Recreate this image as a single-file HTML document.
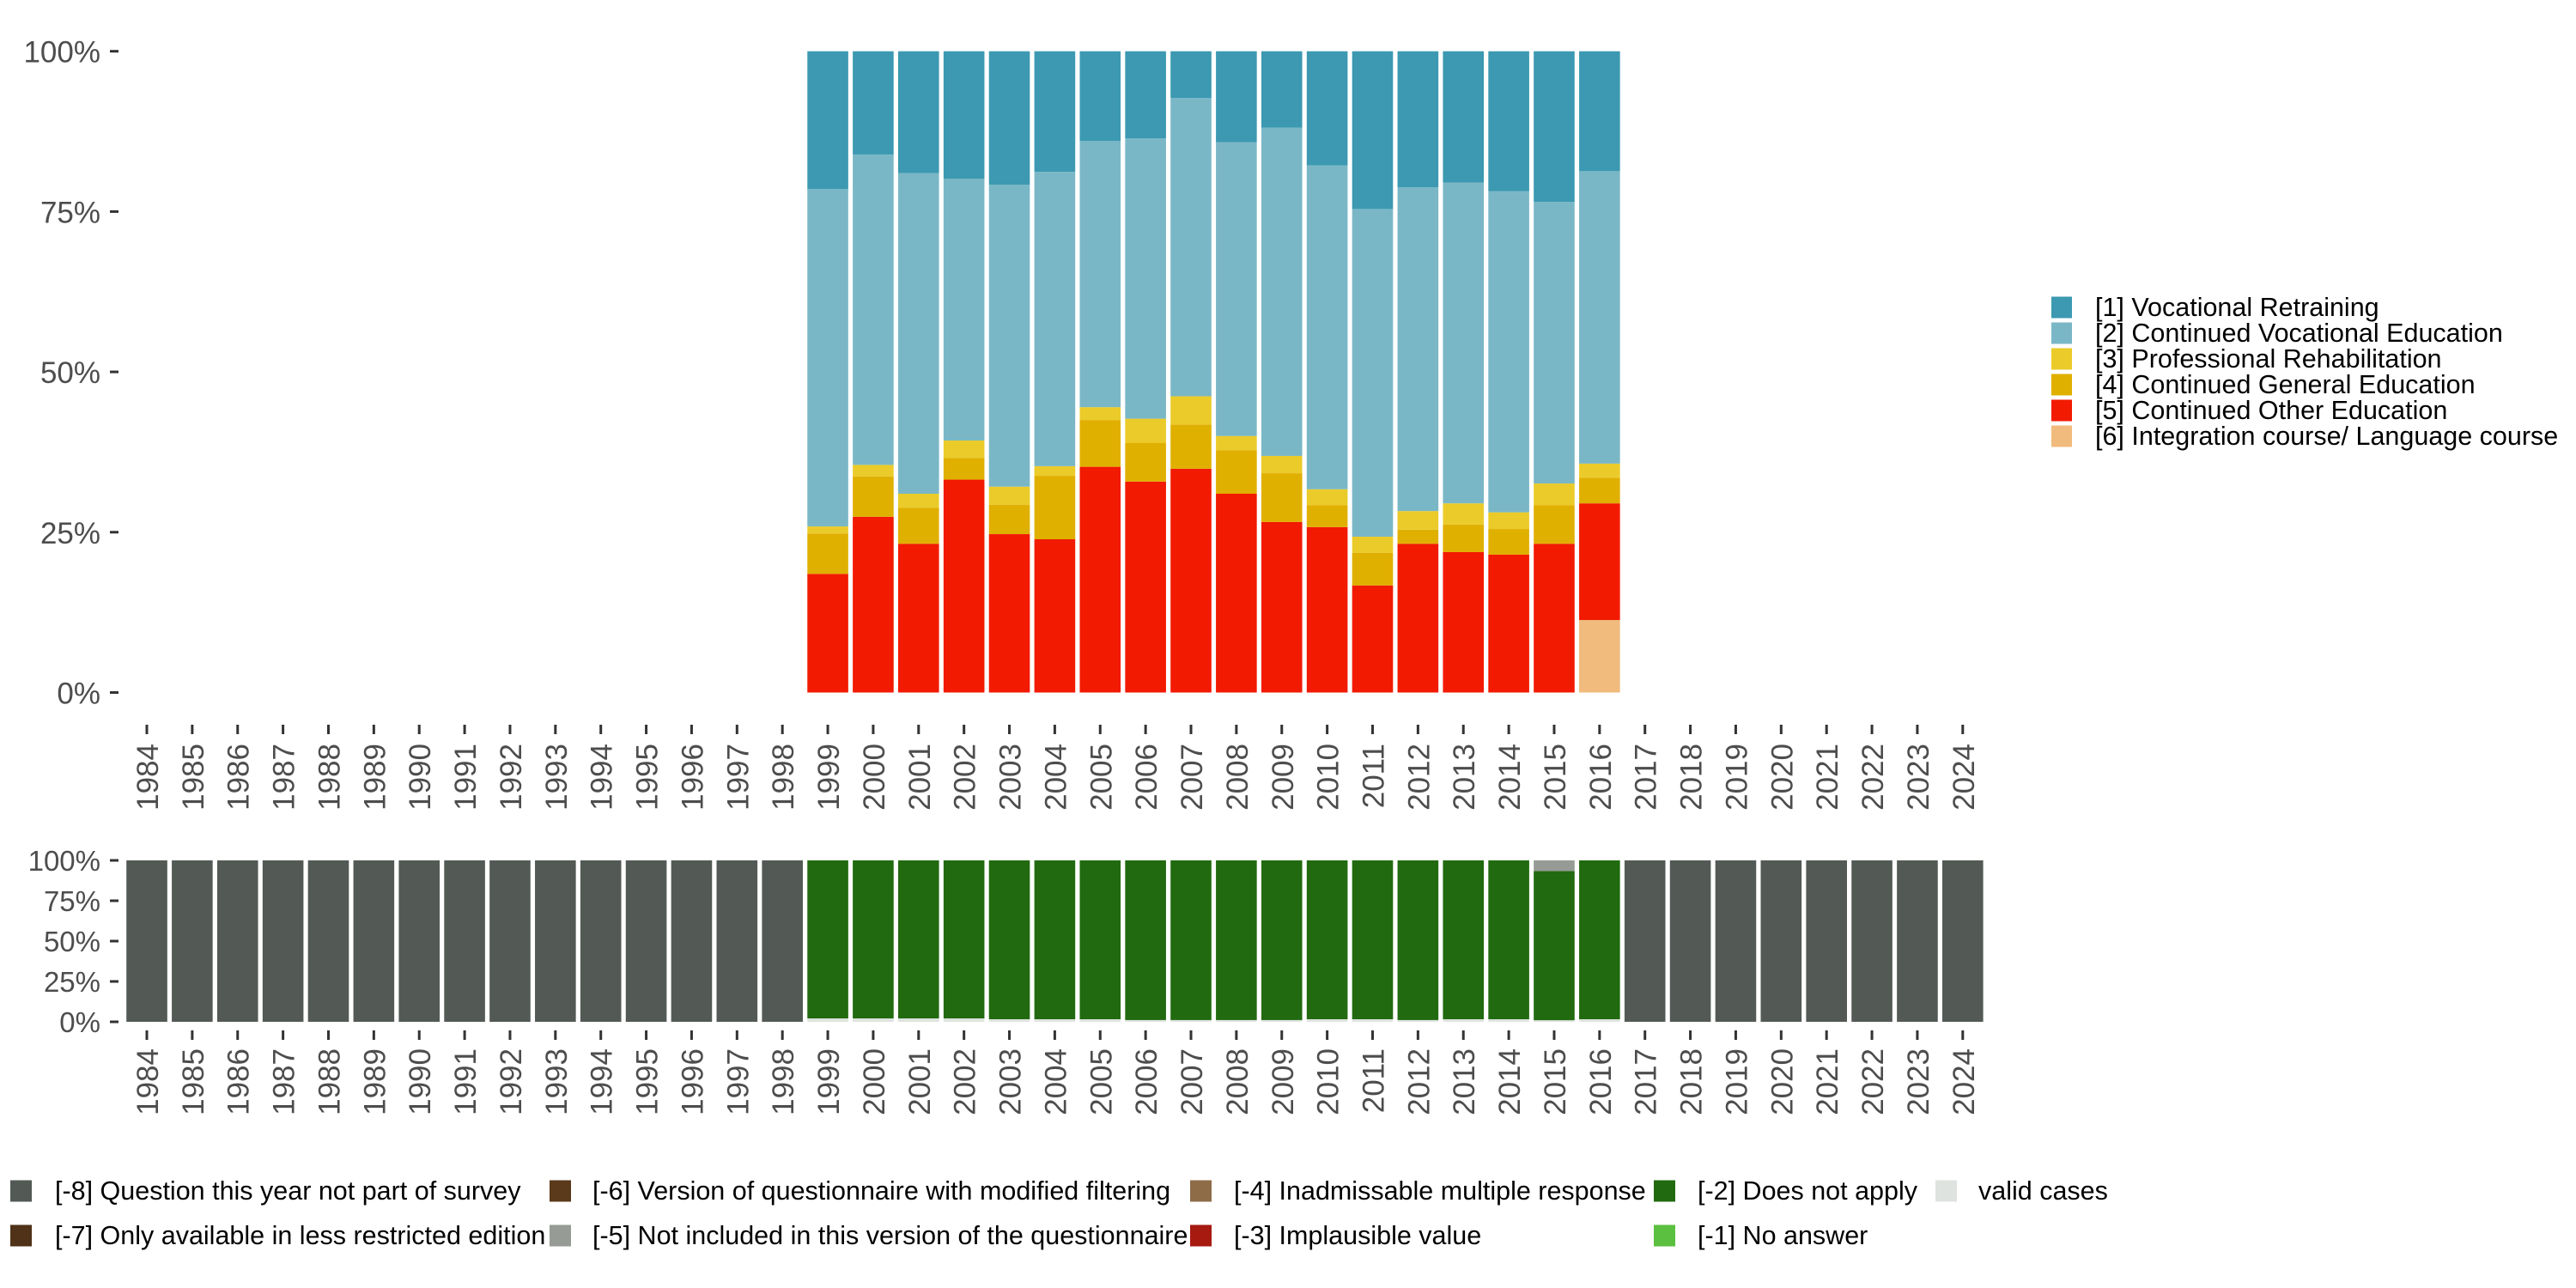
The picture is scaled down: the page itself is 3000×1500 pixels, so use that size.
<!DOCTYPE html>
<html><head><meta charset="utf-8"><style>
html,body{margin:0;padding:0;background:#fff;}
svg{display:block;font-family:"Liberation Sans",sans-serif;}
</style></head><body>
<svg id="chart" width="3000" height="1500" viewBox="0 0 3000 1500" xmlns="http://www.w3.org/2000/svg">
<g id="top"></g>
<g id="bottom"></g>
<g id="legend1"></g>
<g id="legend2"></g>
</svg>
<script>
const years = [];
for (let y = 1984; y <= 2024; y++) years.push(y);
const dataYears = [1999,2000,2001,2002,2003,2004,2005,2006,2007,2008,2009,2010,2011,2012,2013,2014,2015,2016];
const integration = [0,0,0,0,0,0,0,0,0,0,0,0,0,0,0,0,0,11.3];
const otherEdu =   [18.5,27.4,23.2,33.2,24.7,23.9,35.2,32.9,34.9,31.0,26.6,25.8,16.7,23.2,21.9,21.5,23.2,18.2];
const generalEdu = [6.3,6.3,5.6,3.4,4.6,9.9,7.3,6.0,6.9,6.8,7.6,3.4,5.1,2.2,4.3,4.0,6.0,4.0];
const rehab =      [1.1,1.8,2.2,2.7,2.8,1.5,2.0,3.8,4.4,2.2,2.7,2.5,2.5,2.9,3.3,2.6,3.4,2.2];
const contVoc =    [52.6,48.4,50.0,40.8,47.1,45.9,41.5,43.7,46.5,45.8,51.2,50.5,51.1,50.5,50.0,50.1,43.9,45.6];
const retraining = [21.5,16.1,19.0,19.9,20.8,18.8,14.0,13.6,7.3,14.2,11.9,17.8,24.6,21.2,20.5,21.8,23.5,18.7];
const yTicks = [0,25,50,75,100];
const yTickLabels = ["0%","25%","50%","75%","100%"];
const validCases = [2.1,2.1,2.1,2.1,1.6,1.6,1.6,1.1,1.1,1.1,1.1,1.6,1.6,1.1,1.6,1.6,1.0,1.6];
const notIncluded = [0,0,0,0,0,0,0,0,0,0,0,0,0,0,0,0,6.6,0];

const NS = "http://www.w3.org/2000/svg";
function mk(tag, attrs, parent){const e=document.createElementNS(NS,tag);for(const k in attrs)e.setAttribute(k,attrs[k]);parent.appendChild(e);return e;}

const band = 52.87, x0 = 171, barW = 47.6;
function xPos(year){return x0 + (year-1984)*band;}
function yTop(v){return 806.5 - v/100*(806.5-59.7);}
function yBot(v){return 1190 - v/100*(1190-1002);}

const topColors = ["#f0bb7c","#f21a00","#e0b000","#ebcb2a","#7ab7c6","#3c99b1"];
const topSeries = [integration,otherEdu,generalEdu,rehab,contVoc,retraining];
const topNames = ["integration","other-education","general-education","rehabilitation","continued-vocational","vocational-retraining"];
const gTop = document.getElementById("top");
dataYears.forEach((yr,i)=>{
  let acc=0;
  topSeries.forEach((s,k)=>{
    const v=s[i]; if(v<=0) return;
    const r=mk("rect",{x:xPos(yr)-barW/2,y:yTop(acc+v),width:barW,height:yTop(acc)-yTop(acc+v),fill:topColors[k]},gTop);
    
    
    acc+=v;
  });
});
function yAxis(g, fn, fs, off){
  yTicks.forEach((t,i)=>{
    const tk=mk("rect",{x:128,y:fn(t)-1.5,width:10,height:3,fill:"#333"},g);
    
    
    const tx=mk("text",{x:117,y:fn(t)+off,"text-anchor":"end","font-size":fs,fill:"#4d4d4d"},g);
    tx.textContent=yTickLabels[i];
    
    
  });
}
function xAxis(g, tickY, labelY){
  years.forEach(yr=>{
    const tk=mk("rect",{x:xPos(yr)-1.5,y:tickY,width:3,height:11,fill:"#333"},g);
    
    
    const bx=xPos(yr)+13;
    const tx=mk("text",{x:bx,y:labelY,"text-anchor":"end","font-size":35,fill:"#4d4d4d",transform:`rotate(-90 ${bx} ${labelY})`},g);
    tx.textContent=yr;
    
    
  });
}
yAxis(gTop, yTop, 35, 13);
xAxis(gTop, 844, 866);

const gB = document.getElementById("bottom");
years.forEach(yr=>{
  const i=dataYears.indexOf(yr);
  const parts = i<0 ? [[100,"#535a55","not-part-of-survey"]] :
    [[validCases[i],"#dfe3df","valid-cases"],[100-validCases[i]-notIncluded[i],"#216a10","does-not-apply"],[notIncluded[i],"#979b96","not-included"]];
  let acc=0;
  parts.forEach(p=>{
    if(p[0]<=0) return;
    const r=mk("rect",{x:xPos(yr)-barW/2,y:yBot(acc+p[0]),width:barW,height:yBot(acc)-yBot(acc+p[0]),fill:p[1]},gB);
    
    
    acc+=p[0];
  });
});
yAxis(gB, yBot, 33, 12);
xAxis(gB, 1200, 1221);

const leg1Labels = ["[1] Vocational Retraining","[2] Continued Vocational Education","[3] Professional Rehabilitation","[4] Continued General Education","[5] Continued Other Education","[6] Integration course/ Language course"];
const leg1Colors = ["#3c99b1","#7ab7c6","#ebcb2a","#e0b000","#f21a00","#f0bb7c"];
const gL1=document.getElementById("legend1");
leg1Labels.forEach((l,i)=>{
  const cy=358+i*30;
  const r=mk("rect",{x:2389,y:cy-12.5,width:24,height:25,fill:leg1Colors[i]},gL1);
  
  
  const t=mk("text",{x:2440,y:cy+10,"font-size":30.5,fill:"#000"},gL1);
  t.textContent=l;
  
  
});

const leg2 = [
 ["[-8] Question this year not part of survey","#535a55",12,64,1387],
 ["[-7] Only available in less restricted edition","#4f3218",12,64,1439],
 ["[-6] Version of questionnaire with modified filtering","#5a3a1a",640,690,1387],
 ["[-5] Not included in this version of the questionnaire","#979b96",640,690,1439],
 ["[-4] Inadmissable multiple response","#8e6c48",1386,1437,1387],
 ["[-3] Implausible value","#a61a10",1386,1437,1439],
 ["[-2] Does not apply","#216a10",1926,1977,1387],
 ["[-1] No answer","#5bbf3f",1926,1977,1439],
 ["valid cases","#dfe3df",2254,2304,1387]
];
const gL2=document.getElementById("legend2");
leg2.forEach(e=>{
  const r=mk("rect",{x:e[2],y:e[4]-12.5,width:25,height:25,fill:e[1]},gL2);
  
  
  const t=mk("text",{x:e[3],y:e[4]+10,"font-size":30.5,fill:"#000"},gL2);
  t.textContent=e[0];
  
  
});
</script>
</body></html>
